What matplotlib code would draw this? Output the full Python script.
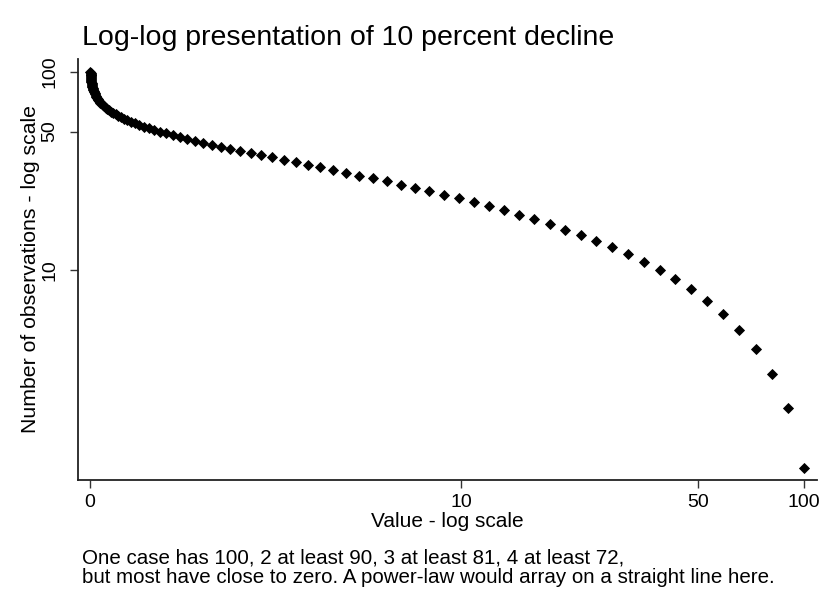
import numpy as np
import matplotlib.pyplot as plt

plt.rcParams['font.family'] = ['Liberation Sans', 'DejaVu Sans']

# Case values: each one 10 percent below the previous
values = [100, 90, 81, 72.9, 65.61, 59.049, 53.144, 47.830, 43.047, 38.742,
          34.868, 31.381, 28.243, 25.419, 22.877, 20.589, 18.530, 16.677, 15.009, 13.509,
          12.158, 10.942, 9.8477, 8.8629, 7.9766, 7.1790, 6.4611, 5.8150, 5.2335, 4.7101,
          4.2391, 3.8152, 3.4337, 3.0903, 2.7813, 2.5032, 2.2528, 2.0276, 1.8248, 1.6423,
          1.4781, 1.3303, 1.1973, 1.0775, 0.96977, 0.87280, 0.78552, 0.70697, 0.63627, 0.57264,
          0.51538, 0.46384, 0.41746, 0.37571, 0.33814, 0.30433, 0.27389, 0.24650, 0.22185, 0.19967,
          0.17970, 0.16173, 0.14556, 0.13100, 0.11790, 0.10611, 0.095500, 0.085950, 0.077355, 0.069620,
          0.062658, 0.056392, 0.050753, 0.045678, 0.041110, 0.036999, 0.033299, 0.029969, 0.026972, 0.024275,
          0.021848, 0.019663, 0.017697, 0.015927, 0.014334, 0.012901, 0.011611, 0.010450, 0.0094046, 0.0084642,
          0.0076177, 0.0068560, 0.0061704, 0.0055533, 0.0049980, 0.0044982, 0.0040484, 0.0036435, 0.0032792, 0.0029513]

# number of observations at or above each value
counts = [sum(v >= x for v in values) for x in values]

x_ticks = [0, 10, 50, 100]
y_ticks = [10, 50, 100]

W, H = 838, 611
fig = plt.figure(figsize=(W / 100, H / 100), dpi=100)
ax = fig.add_axes([78 / W, 1 - 480 / H, (817 - 78) / W, (480 - 59) / H])

# log(x + 1) keeps the zero values on the axis
ax.set_xscale('function', functions=(lambda x: np.log(x + 1), lambda y: np.exp(y) - 1))
ax.set_yscale('log')

ax.plot(values, counts, linestyle='none', marker='D', markersize=5.5,
        color='black', markeredgewidth=0.6)

ax.set_xlim(-0.0747, 108.96)
ax.set_ylim(0.87, 116.3)

ax.set_xticks(x_ticks)
ax.set_xticklabels([str(t) for t in x_ticks], fontsize=14)
ax.set_yticks(y_ticks)
ax.set_yticklabels([str(t) for t in y_ticks], fontsize=14, rotation=90, va='center')
ax.yaxis.set_minor_locator(plt.NullLocator())
ax.xaxis.set_minor_locator(plt.NullLocator())
ax.tick_params(axis='both', length=6, width=1, color='#333333')
ax.tick_params(axis='x', pad=4)
ax.tick_params(axis='y', pad=8)

for side in ['top', 'right']:
    ax.spines[side].set_visible(False)
for side in ['left', 'bottom']:
    ax.spines[side].set_linewidth(1.3)
    ax.spines[side].set_color('#222222')

ax.set_xlabel('Value - log scale', fontsize=15, labelpad=1)
ax.set_ylabel('Number of observations - log scale', fontsize=15.3, labelpad=1)

fig.text(82 / W, 1 - 45 / H, 'Log-log presentation of 10 percent decline',
         fontsize=20.5, ha='left', va='baseline')
fig.text(82 / W, 1 - 564 / H,
         'One case has 100, 2 at least 90, 3 at least 81, 4 at least 72,',
         fontsize=14.8, ha='left', va='baseline')
fig.text(82 / W, 1 - 583 / H,
         'but most have close to zero. A power-law would array on a straight line here.',
         fontsize=14.8, ha='left', va='baseline')

fig.savefig('out.png', dpi=100, facecolor='white')
